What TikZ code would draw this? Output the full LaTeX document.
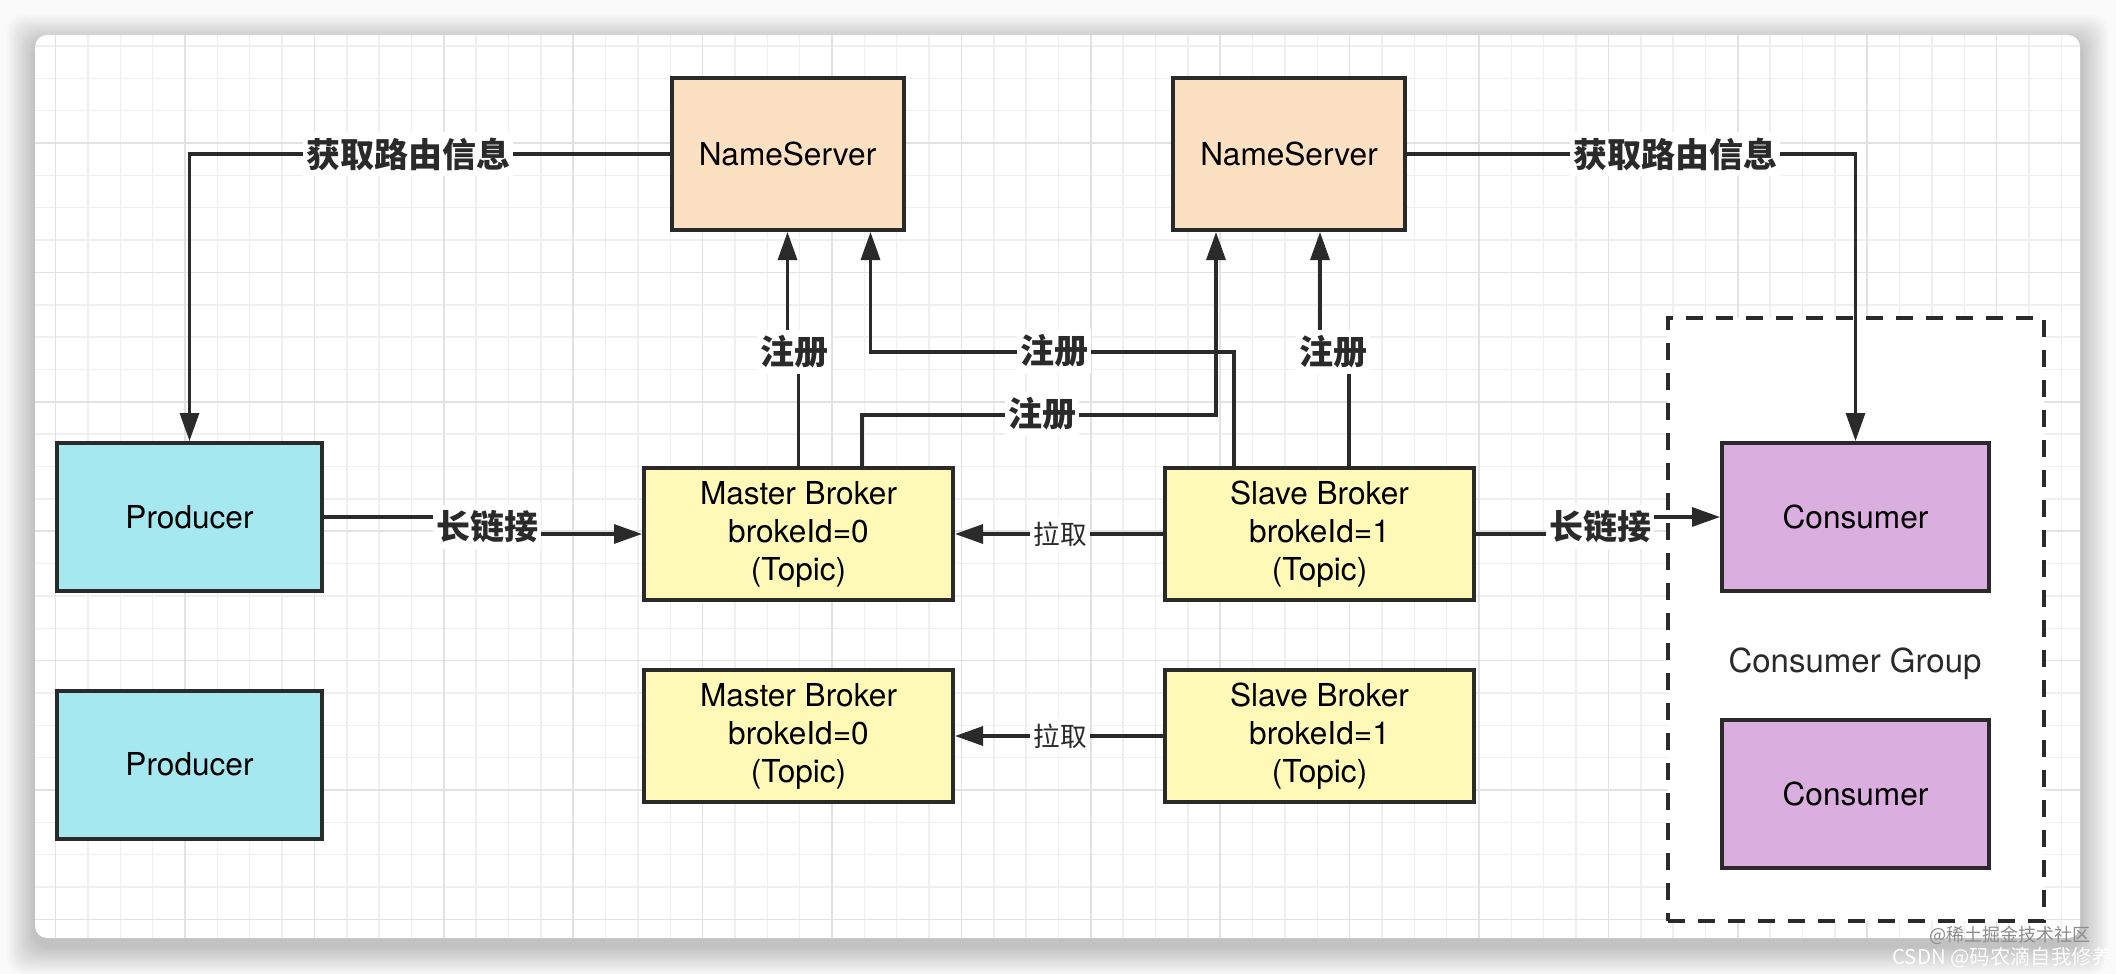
\documentclass[tikz,border=0pt]{standalone}
\usepackage{fontspec}
\setmainfont{TeX Gyre Heros}
\newfontfamily\cjk{Noto Sans CJK SC}
\usetikzlibrary{arrows.meta,calc}

\definecolor{linecol}{HTML}{2A2A2A}
\definecolor{prodfill}{HTML}{A6E8F0}
\definecolor{nsfill}{HTML}{FCE0C2}
\definecolor{brokerfill}{HTML}{FFF9B8}
\definecolor{consfill}{HTML}{DBAEE0}
\definecolor{gridminor}{HTML}{EFEFEF}
\definecolor{gridmajor}{HTML}{E2E2E2}
\definecolor{bgcol}{HTML}{FAFAFA}
\definecolor{markcol}{HTML}{FDFDFD}

\tikzset{
  box/.style={draw=linecol,line width=2pt,align=center,inner sep=0pt,
    font=\fontsize{15.8}{19}\selectfont},
  nsbox/.style={box,fill=nsfill,minimum width=116pt,minimum height=76pt},
  prodbox/.style={box,fill=prodfill,minimum width=132.5pt,minimum height=74pt},
  brokerbox/.style={box,fill=brokerfill,minimum width=154.5pt,minimum height=66pt},
  consbox/.style={box,fill=consfill,minimum width=133.5pt,minimum height=74pt},
  groupbox/.style={draw=linecol,fill=white,line width=1.8pt,
    dash pattern=on 8.5pt off 6.5pt,minimum width=188pt,minimum height=301.5pt},
  conn/.style={draw=linecol,line width=1.6pt,-{Triangle[length=14pt,width=9.5pt]}},
  lab/.style={fill=white,inner xsep=1.5pt,inner ysep=3pt,text=linecol,
    font=\cjk\bfseries\fontsize{17}{17}\selectfont},
  pulllab/.style={fill=white,inner xsep=1.5pt,inner ysep=3pt,text=linecol,
    font=\cjk\fontsize{13.3}{13.3}\selectfont},
}

\begin{document}
\begin{tikzpicture}[x=0.5pt,y=-0.5pt]
  \useasboundingbox (0,0) rectangle (2116,974);
  \fill[bgcol] (0,0) rectangle (2116,974);
  \foreach \i in {1,...,14}
    \fill[black,opacity=0.016,rounded corners=8pt] ({35-2*\i},{43-2*\i}) rectangle ({2080+2*\i},{946+2*\i});
  \fill[white,rounded corners=6pt] (35,35) rectangle (2080,938);
  \begin{scope}
    \clip[rounded corners=6pt] (35,35) rectangle (2080,938);
    \foreach \k in {0,...,62}
      \draw[gridminor,line width=0.75pt] ({55.6+\k*32.35},35) -- ++(0,903);
    \foreach \k in {0,...,27}
      \draw[gridminor,line width=0.75pt] (35,{45.95+\k*32.35}) -- ++(2045,0);
    \foreach \k in {0,...,15}
      \draw[gridmajor,line width=0.75pt] ({55.6+\k*129.4},35) -- ++(0,903);
    \foreach \k in {0,...,6}
      \draw[gridmajor,line width=0.75pt] (35,{143+\k*129.4}) -- ++(2045,0);
  \end{scope}

  \node[groupbox] (group) at (1856,619.5) {};
  \node[font=\fontsize{16.5}{16.5}\selectfont,text=linecol] (grouplabel) at (1855,664) {Consumer Group};

  \node[nsbox] (ns1) at (787.5,154) {NameServer};
  \node[nsbox] (ns2) at (1289,154) {NameServer};
  \node[prodbox] (prod1) at (189.5,517) {Producer};
  \node[prodbox] (prod2) at (189.5,764.5) {Producer};
  \node[brokerbox] (master1) at (798.5,534) {Master Broker\\brokeId=0\\(Topic)};
  \node[brokerbox] (master2) at (798.5,736) {Master Broker\\brokeId=0\\(Topic)};
  \node[brokerbox] (slave1) at (1319.5,534) {Slave Broker\\brokeId=1\\(Topic)};
  \node[brokerbox] (slave2) at (1319.5,736) {Slave Broker\\brokeId=1\\(Topic)};
  \node[consbox] (cons1) at (1855.5,517) {Consumer};
  \node[consbox] (cons2) at (1855.5,794) {Consumer};

  \draw[conn] (ns1.west) -| (prod1.north);
  \draw[conn] (ns2.east) -| (cons1.north);
  \draw[conn] (prod1.east) -- ++(165,0) |- (master1.west);
  \draw[conn] (slave1.east) -- ++(127,0) |- (cons1.west);
  \draw[conn] (slave1.west) -- (master1.east);
  \draw[conn] (slave2.west) -- (master2.east);
  \draw[conn] (master1.north) -- ++(0,-116) -| (ns1.south);
  \draw[conn] ($(slave1.north west)+(71,0)$) |- ($(ns1.south east)+(-35,120)$) -- ($(ns1.south east)+(-35,0)$);
  \draw[conn] ($(master1.north east)+(-93,0)$) |- ($(ns2.south west)+(45,183)$) -- ($(ns2.south west)+(45,0)$);
  \draw[conn] ($(slave1.north east)+(-127,0)$) -- ++(0,-116) -| ($(ns2.south east)+(-87,0)$);

  \node[lab] (route1) at (408,154) {获取路由信息};
  \node[lab] (route2) at (1675,154) {获取路由信息};
  \node[lab] (link1) at (487,527) {长链接};
  \node[lab] (link2) at (1600,527) {长链接};
  \node[pulllab] (pull1) at (1060,534) {拉取};
  \node[pulllab] (pull2) at (1060,736) {拉取};
  \node[lab] (reg1) at (794,352) {注册};
  \node[lab] (reg2) at (1054,351) {注册};
  \node[lab] (reg3) at (1042,414) {注册};
  \node[lab] (reg4) at (1333,352) {注册};

  \node[font=\cjk\fontsize{9}{9}\selectfont,text=gray!90,inner sep=0pt] (mark1) at (2010,935) {@稀土掘金技术社区};
  \node[font=\cjk\fontsize{10.2}{10.2}\selectfont,text=markcol,anchor=west,inner sep=0pt] (mark2) at (1892,958) {CSDN @码农滴自我修养};
\end{tikzpicture}
\end{document}
